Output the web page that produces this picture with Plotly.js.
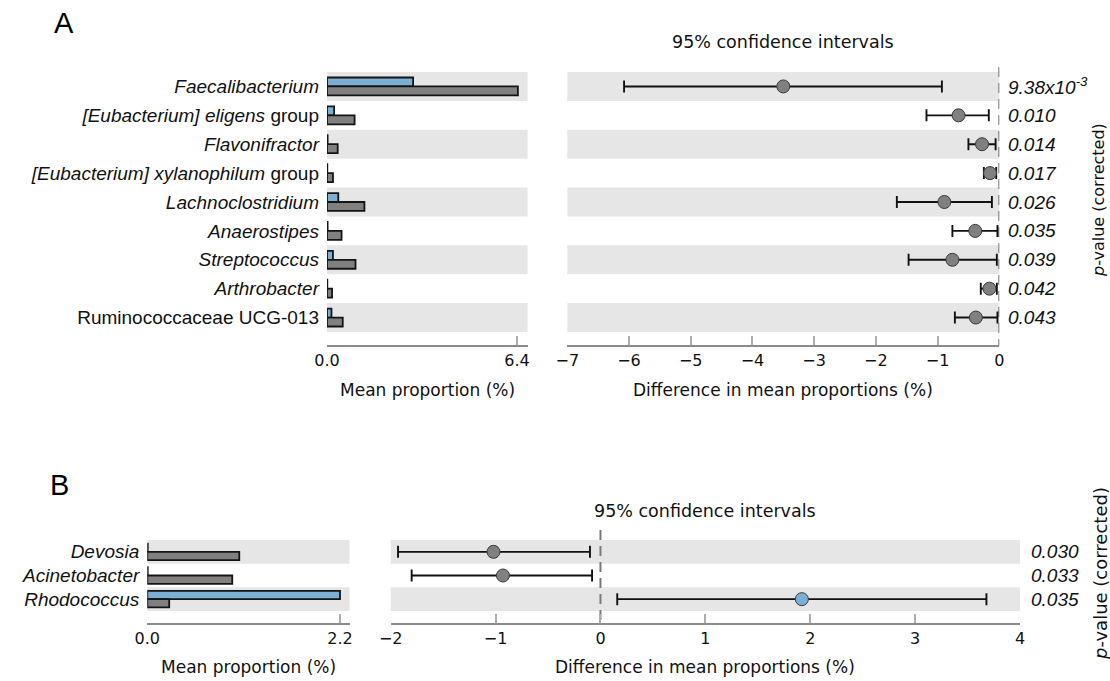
<!DOCTYPE html>
<html><head><meta charset="utf-8">
<script src="https://cdn.plot.ly/plotly-3.0.1.min.js"></script>
<style>body{margin:0;background:#fff}</style>
</head><body>
<div id="chart" style="width:1110px;height:681px"></div>
<script>
// ---------- Panel A data ----------
const genusA = ["Faecalibacterium","[Eubacterium] eligens group","Flavonifractor","[Eubacterium] xylanophilum group","Lachnoclostridium","Anaerostipes","Streptococcus","Arthrobacter","Ruminococcaceae UCG-013"];
const labelA = ["<i>Faecalibacterium</i>","<i>[Eubacterium] eligens</i> group","<i>Flavonifractor</i>","<i>[Eubacterium] xylanophilum</i> group","<i>Lachnoclostridium</i>","<i>Anaerostipes</i>","<i>Streptococcus</i>","<i>Arthrobacter</i>","Ruminococcaceae UCG-013"];
const meanBlueA = [2.90,0.24,0.02,0.01,0.38,0.02,0.20,0.01,0.15];
const meanGreyA = [6.43,0.93,0.36,0.20,1.26,0.49,0.96,0.17,0.53];
const diffA   = [-3.50,-0.66,-0.28,-0.15,-0.89,-0.39,-0.76,-0.16,-0.38];
const ciLowA  = [-6.08,-1.18,-0.50,-0.25,-1.66,-0.76,-1.47,-0.30,-0.72];
const ciHighA = [-0.93,-0.17,-0.06,-0.05,-0.12,-0.03,-0.04,-0.04,-0.03];
const pvalA = ["9.38x10<sup>-3</sup>","0.010","0.014","0.017","0.026","0.035","0.039","0.042","0.043"];
const barTicksA = [0, 6.4], barTickTextA = ["0.0","6.4"];
const ciTicksA = [-7,-6,-5,-4,-3,-2,-1,0];

// ---------- Panel B data ----------
const genusB = ["Devosia","Acinetobacter","Rhodococcus"];
const labelB = ["<i>Devosia</i>","<i>Acinetobacter</i>","<i>Rhodococcus</i>"];
const meanBlueB = [0.005,0.005,2.20];
const meanGreyB = [1.05,0.97,0.25];
const diffB   = [-1.02,-0.93,1.92];
const ciLowB  = [-1.93,-1.80,0.16];
const ciHighB = [-0.10,-0.08,3.68];
const pvalB = ["0.030","0.033","0.035"];
const barTicksB = [0, 2.2], barTickTextB = ["0.0","2.2"];
const ciTicksB = [-2,-1,0,1,2,3,4];

// ---------- styling ----------
const W = 1110, H = 681;
const fx = p => p / W, fy = p => 1 - p / H;
const BLUE = "#7bafd4", GREY = "#808080", BAND = "#e6e6e6";
const TXT = "#111111";
const sans = "DejaVu Sans, Verdana, sans-serif";
const arial = "Liberation Sans, Arial, sans-serif";

function xAxis(domainPx, range, tickvals, ticktext, posPx) {
  const a = {
    domain: [fx(domainPx[0]), fx(domainPx[1])], range: range,
    anchor: "free", position: fy(posPx),
    tickmode: "array", tickvals: tickvals,
    ticks: "inside", ticklen: 9, tickwidth: 2, tickcolor: "#adadad",
    showline: true, linecolor: "#8c8c8c", linewidth: 2,
    showgrid: false, zeroline: false, fixedrange: true,
    tickfont: {family: sans, size: 16, color: TXT}
  };
  if (ticktext) a.ticktext = ticktext;
  return a;
}
function yAxis(domainPx, n, anchor, labels, cats) {
  const a = {
    domain: [fy(domainPx[1]), fy(domainPx[0])], anchor: anchor,
    range: [n - 0.5, -0.5], type: "category",
    showline: false, showgrid: false, zeroline: false, ticks: "",
    fixedrange: true
  };
  if (labels) {
    a.tickmode = "array"; a.tickvals = cats; a.ticktext = labels;
    a.tickfont = {family: arial, size: 19, color: TXT};
    a.ticklabelstandoff = 7;
  } else {
    a.showticklabels = false;
  }
  return a;
}

const barStyle = {line: {color: "#141414", width: 1.8}};
function barPair(cats, blue, grey, xa, ya, w) {
  return [
    {type: "bar", orientation: "h", y: cats, x: blue, xaxis: xa, yaxis: ya,
     width: w, offset: -w, marker: Object.assign({color: BLUE}, barStyle), hoverinfo: "skip"},
    {type: "bar", orientation: "h", y: cats, x: grey, xaxis: xa, yaxis: ya,
     width: w, offset: 0, marker: Object.assign({color: GREY}, barStyle), hoverinfo: "skip"}
  ];
}
function ciTrace(cats, d, lo, hi, xa, ya) {
  return {
    type: "scatter", mode: "markers", x: d, y: cats, xaxis: xa, yaxis: ya,
    error_x: {type: "data", symmetric: false,
      array: d.map((v, i) => hi[i] - v), arrayminus: d.map((v, i) => v - lo[i]),
      color: "#111", thickness: 1.9, width: 6},
    marker: {size: 13, color: d.map(v => v > 0 ? BLUE : GREY), line: {color: "#3a3a3a", width: 1}},
    hoverinfo: "skip"
  };
}

const data = [
  ...barPair(genusA, meanBlueA, meanGreyA, "x", "y", 0.31),
  ciTrace(genusA, diffA, ciLowA, ciHighA, "x2", "y2"),
  ...barPair(genusB, meanBlueB, meanGreyB, "x3", "y3", 0.35),
  ciTrace(genusB, diffB, ciLowB, ciHighB, "x4", "y4")
];

// bands
const shapes = [];
function bands(n, xa, ya) {
  for (let i = 0; i < n; i += 2) {
    shapes.push({type: "rect", xref: xa + " domain", yref: ya, x0: 0, x1: 1,
      y0: i - 0.5, y1: i + 0.5, fillcolor: BAND, line: {width: 0}, layer: "below"});
  }
}
bands(genusA.length, "x", "y");
bands(genusA.length, "x2", "y2");
bands(genusB.length, "x3", "y3");
bands(genusB.length, "x4", "y4");
// dashed zero lines
shapes.push({type: "line", xref: "x2", yref: "paper", x0: 0, x1: 0, y0: fy(67), y1: fy(346),
  line: {color: "#7a7a7a", width: 2, dash: "10px,6px"}, layer: "below"});
shapes.push({type: "line", xref: "x4", yref: "paper", x0: 0, x1: 0, y0: fy(530), y1: fy(624),
  line: {color: "#7a7a7a", width: 2, dash: "10px,6px"}, layer: "below"});

const annotations = [];
function txt(text, xp, yp, opts) {
  annotations.push(Object.assign({text: text, x: fx(xp), y: fy(yp), xref: "paper", yref: "paper",
    showarrow: false, xanchor: "center", yanchor: "middle",
    font: {family: sans, size: 17, color: TXT}}, opts || {}));
}
// panel letters
txt("A", 52, 22.5, {xanchor: "left", font: {family: arial, size: 29, color: "#000"}});
txt("B", 48, 484.5, {xanchor: "left", font: {family: arial, size: 29, color: "#000"}});
// titles
txt("95% confidence intervals", 783, 42, {font: {family: sans, size: 17.5, color: TXT}});
txt("95% confidence intervals", 705, 510.5, {font: {family: sans, size: 17.5, color: TXT}});
txt("Mean proportion (%)", 427, 390);
txt("Difference in mean proportions (%)", 783, 390);
txt("Mean proportion (%)", 248, 667);
txt("Difference in mean proportions (%)", 705, 667);
// p-value axis titles
txt("<i>p</i>-value (corrected)", 1098, 200, {textangle: -90, font: {family: sans, size: 16, color: TXT}});
txt("<i>p</i>-value (corrected)", 1100, 574, {textangle: -90, font: {family: sans, size: 18, color: TXT}});
// p-values
pvalA.forEach((p, i) => annotations.push({text: "<i>" + p + "</i>", xref: "paper", yref: "y2",
  x: fx(1006), y: i, xanchor: "left", yanchor: "middle", showarrow: false,
  font: {family: arial, size: 19, color: TXT}}));
pvalB.forEach((p, i) => annotations.push({text: "<i>" + p + "</i>", xref: "paper", yref: "y4",
  x: fx(1029), y: i, xanchor: "left", yanchor: "middle", showarrow: false,
  font: {family: arial, size: 19, color: TXT}}));

const layout = {
  width: W, height: H, margin: {l: 0, r: 0, t: 0, b: 0},
  paper_bgcolor: "#fff", plot_bgcolor: "rgba(0,0,0,0)",
  showlegend: false, barmode: "overlay", hovermode: false,
  xaxis:  xAxis([327, 527.5], [0, 6.4 * 200.5 / 190], barTicksA, barTickTextA, 346),
  yaxis:  yAxis([72, 332], genusA.length, "x", labelA, genusA),
  xaxis2: xAxis([567.3, 999.3], [-7, 0], ciTicksA, null, 346),
  yaxis2: yAxis([72, 332], genusA.length, "x2", null),
  xaxis3: xAxis([147.3, 349.5], [0, 2.2 * 202.2 / 192.7], barTicksB, barTickTextB, 624),
  yaxis3: yAxis([540, 611], genusB.length, "x3", labelB, genusB),
  xaxis4: xAxis([390.7, 1020], [-2, 4], ciTicksB, null, 624),
  yaxis4: yAxis([540, 611], genusB.length, "x4", null),
  shapes: shapes, annotations: annotations
};

Plotly.newPlot("chart", data, layout, {displayModeBar: false, staticPlot: true});
</script>
</body></html>
